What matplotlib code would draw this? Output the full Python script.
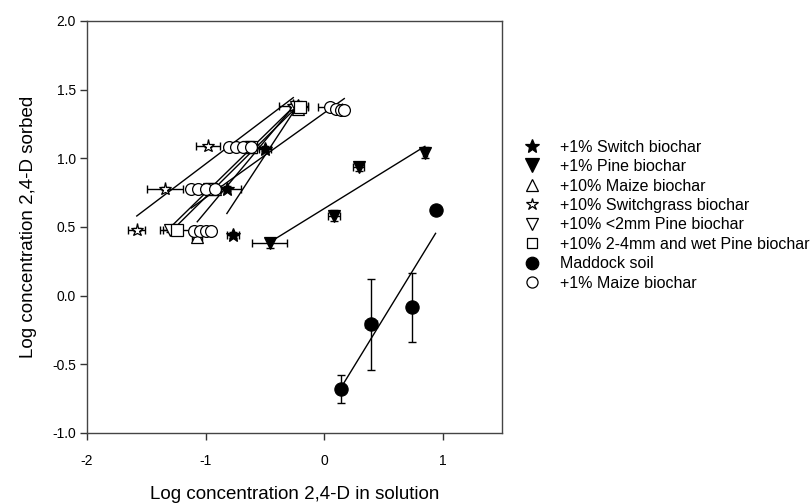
import numpy as np
import matplotlib
matplotlib.use("Agg")
import matplotlib.pyplot as plt
from matplotlib.lines import Line2D

plt.rcParams["font.family"] = ["Liberation Sans", "DejaVu Sans"]

# log C_solution (x), log C_sorbed (y), with x/y error bars
switch1_x = [-0.77, -0.82, -0.50, -0.22]
switch1_y = [0.44, 0.78, 1.07, 1.38]
switch1_xerr = [0.05, 0.12, 0.05, 0.04]
switch1_yerr = [0.02, 0.02, 0.02, 0.02]

pine1_x = [-0.46, 0.08, 0.29, 0.85]
pine1_y = [0.38, 0.58, 0.94, 1.04]
pine1_xerr = [0.15, 0.05, 0.05, 0.02]
pine1_yerr = [0.03, 0.04, 0.03, 0.04]

maize10_x = [-1.07, -0.92, -0.62, -0.22]
maize10_y = [0.43, 0.78, 1.08, 1.36]
maize10_xerr = [0.04, 0.05, 0.05, 0.05]
maize10_yerr = [0.02, 0.02, 0.02, 0.02]

switchgrass10_x = [-1.58, -1.34, -0.98, -0.26]
switchgrass10_y = [0.48, 0.78, 1.09, 1.38]
switchgrass10_xerr = [0.07, 0.15, 0.10, 0.12]
switchgrass10_yerr = [0.01, 0.01, 0.01, 0.01]

pine2mm_x = [-1.30, -0.97, -0.64, -0.24]
pine2mm_y = [0.48, 0.78, 1.08, 1.37]
pine2mm_xerr = [0.08, 0.05, 0.05, 0.05]
pine2mm_yerr = [0.02, 0.02, 0.02, 0.02]

pine4mm_x = [-1.24, -0.95, -0.62, -0.20]
pine4mm_y = [0.48, 0.78, 1.08, 1.37]
pine4mm_xerr = [0.12, 0.05, 0.05, 0.06]
pine4mm_yerr = [0.02, 0.02, 0.02, 0.02]

maddock_x = [0.14, 0.395, 0.745, 0.94]
maddock_y = [-0.68, -0.21, -0.085, 0.62]
maddock_xerr = [0.02, 0.05, 0.02, 0.02]
maddock_yerr = [0.10, 0.33, 0.25, 0.02]

maize1_x = [-1.10, -1.05, -1.00, -0.95, -1.12, -1.06, -1.00, -0.92,
            -0.80, -0.74, -0.68, -0.62, 0.05, 0.10, 0.14, 0.17]
maize1_y = [0.47, 0.47, 0.47, 0.47, 0.78, 0.78, 0.78, 0.78,
            1.08, 1.08, 1.08, 1.08, 1.37, 1.36, 1.35, 1.35]
maize1_xerr = [0.03, 0.03, 0.03, 0.03, 0.03, 0.03, 0.03, 0.03,
               0.03, 0.03, 0.03, 0.03, 0.10, 0.03, 0.03, 0.03]
maize1_yerr = [0.01] * 16

# label, x, y, xerr, yerr, marker, face colour, size on plot, size in legend
series = [
    ("+1% Switch biochar", switch1_x, switch1_y, switch1_xerr, switch1_yerr,
     "*", "black", 10, 10),
    ("+1% Pine biochar", pine1_x, pine1_y, pine1_xerr, pine1_yerr,
     "v", "black", 9, 10),
    ("+10% Maize biochar", maize10_x, maize10_y, maize10_xerr, maize10_yerr,
     "^", "white", 9, 9),
    ("+10% Switchgrass biochar", switchgrass10_x, switchgrass10_y,
     switchgrass10_xerr, switchgrass10_yerr, "*", "white", 9.5, 9),
    ("+10% <2mm Pine biochar", pine2mm_x, pine2mm_y, pine2mm_xerr, pine2mm_yerr,
     "v", "white", 9, 9),
    ("+10% 2-4mm and wet Pine biochar", pine4mm_x, pine4mm_y, pine4mm_xerr,
     pine4mm_yerr, "s", "white", 8, 7.5),
    ("Maddock soil", maddock_x, maddock_y, maddock_xerr, maddock_yerr,
     "o", "black", 9.5, 9),
    ("+1% Maize biochar", maize1_x, maize1_y, maize1_xerr, maize1_yerr,
     "o", "white", 8.5, 8),
]

fig = plt.figure(figsize=(8.12, 5.03), dpi=100)
ax = fig.add_axes([0.1071, 0.1392, 0.5111, 0.8191])

handles = []
for i, (label, x, y, xe, ye, m, fc, ms, lms) in enumerate(series):
    x = np.asarray(x)
    y = np.asarray(y)
    # linear regression of each isotherm, over the measured range
    k, b = np.polyfit(x, y, 1)
    xx = np.array([x.min(), x.max()])
    ax.plot(xx, k * xx + b, color="black", lw=1.0, zorder=2)
    ax.errorbar(x, y, xerr=xe, yerr=ye, fmt="none", ecolor="black",
                elinewidth=1.0, capsize=3, capthick=1.0, zorder=3)
    ax.plot(x, y, ls="none", marker=m, ms=ms, mfc=fc, mec="black",
            mew=0.9, zorder=4 + i)
    handles.append(Line2D([], [], ls="none", marker=m, ms=lms, mfc=fc,
                          mec="black", mew=0.9, label=label))

ax.set_xlim(-2, 1.5)
ax.set_ylim(-1.0, 2.0)
ax.set_xticks([-2, -1, 0, 1])
ax.set_xticklabels(["-2", "-1", "0", "1"])
ax.set_yticks(np.arange(-1.0, 2.01, 0.5))
ax.set_yticklabels([f"{v:.1f}" for v in np.arange(-1.0, 2.01, 0.5)])
ax.tick_params(axis="both", direction="out", length=5, width=1, labelsize=10,
               color="#333333")
ax.tick_params(axis="x", pad=10)
ax.tick_params(axis="y", pad=3)
for s in ax.spines.values():
    s.set_linewidth(1.0)
    s.set_color("#444444")

ax.set_xlabel("Log concentration 2,4-D in solution", fontsize=13.5, labelpad=13)
ax.set_ylabel("Log concentration 2,4-D sorbed", fontsize=13.5, labelpad=11)

fig.legend(handles=handles, loc="upper left", bbox_to_anchor=(0.6454, 0.7225),
           frameon=False, fontsize=11.5, handlelength=0.95, handletextpad=1.3,
           labelspacing=0.28, borderpad=0, borderaxespad=0)

fig.savefig("out.png", dpi=100)
